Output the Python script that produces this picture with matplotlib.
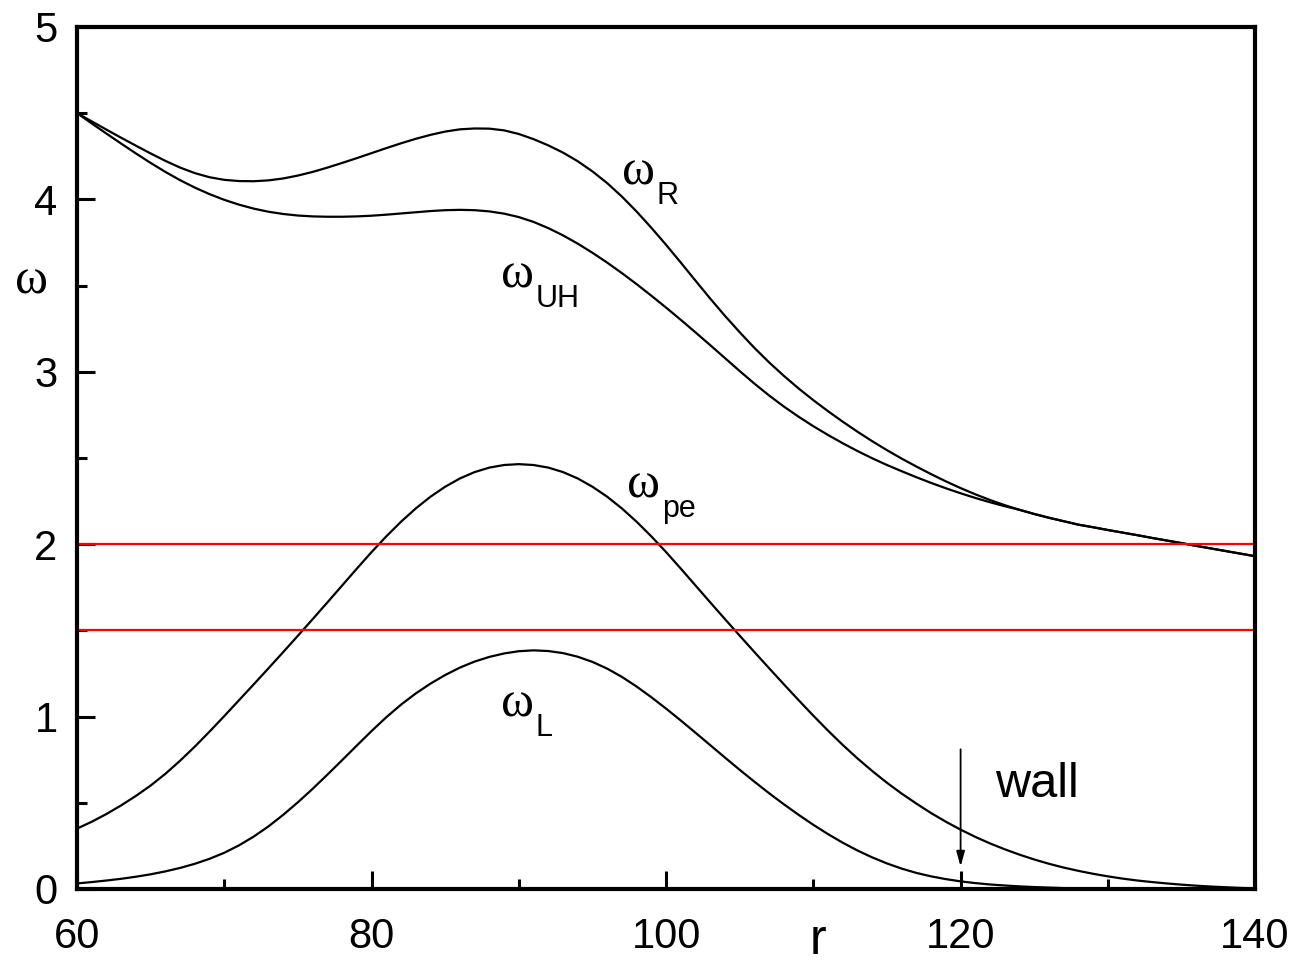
import numpy as np
import matplotlib
matplotlib.use("Agg")
import matplotlib.pyplot as plt

plt.rcParams['font.family'] = ['Liberation Sans', 'DejaVu Sans']

# radius grid, values at every unit of r
r = np.arange(60, 141, 1)

omega_R = [4.500, 4.452, 4.404, 4.357, 4.311, 4.266, 4.223, 4.184, 4.152, 4.128,
           4.113, 4.106, 4.105, 4.110, 4.121, 4.138, 4.159, 4.184, 4.211, 4.239,
           4.268, 4.297, 4.325, 4.351, 4.374, 4.393, 4.406, 4.411, 4.410, 4.400,
           4.379, 4.349, 4.313, 4.271, 4.221, 4.162, 4.094, 4.016, 3.929, 3.835,
           3.736, 3.633, 3.528, 3.424, 3.324, 3.229, 3.138, 3.054, 2.976, 2.903,
           2.835, 2.771, 2.710, 2.652, 2.597, 2.545, 2.496, 2.450, 2.406, 2.364,
           2.325, 2.289, 2.256, 2.226, 2.199, 2.175, 2.153, 2.133, 2.113, 2.098,
           2.082, 2.067, 2.052, 2.036, 2.021, 2.006, 1.990, 1.975, 1.960, 1.945,
           1.930]

omega_UH = [4.500, 4.440, 4.381, 4.323, 4.266, 4.211, 4.159, 4.111, 4.068, 4.030,
            3.997, 3.969, 3.946, 3.928, 3.915, 3.906, 3.901, 3.899, 3.899, 3.901,
            3.905, 3.911, 3.918, 3.925, 3.932, 3.937, 3.939, 3.937, 3.930, 3.917,
            3.897, 3.869, 3.833, 3.791, 3.743, 3.690, 3.633, 3.572, 3.508, 3.441,
            3.372, 3.301, 3.228, 3.154, 3.079, 3.004, 2.931, 2.862, 2.798, 2.739,
            2.684, 2.633, 2.585, 2.540, 2.498, 2.459, 2.423, 2.388, 2.355, 2.324,
            2.295, 2.268, 2.243, 2.220, 2.199, 2.175, 2.153, 2.133, 2.113, 2.098,
            2.082, 2.067, 2.052, 2.036, 2.021, 2.006, 1.990, 1.975, 1.960, 1.945,
            1.930]

omega_pe = [0.350, 0.390, 0.435, 0.485, 0.540, 0.600, 0.668, 0.744, 0.826, 0.913,
            1.003, 1.095, 1.187, 1.280, 1.374, 1.469, 1.565, 1.662, 1.760, 1.858,
            1.954, 2.045, 2.130, 2.207, 2.275, 2.333, 2.381, 2.418, 2.444, 2.459,
            2.464, 2.459, 2.444, 2.418, 2.381, 2.333, 2.275, 2.207, 2.130, 2.045,
            1.954, 1.858, 1.760, 1.662, 1.565, 1.469, 1.374, 1.280, 1.187, 1.095,
            1.005, 0.918, 0.835, 0.757, 0.684, 0.616, 0.553, 0.495, 0.440, 0.390,
            0.344, 0.302, 0.264, 0.230, 0.199, 0.171, 0.146, 0.124, 0.105, 0.088,
            0.073, 0.060, 0.049, 0.040, 0.032, 0.025, 0.019, 0.014, 0.010, 0.006,
            0.003]

omega_L = [0.032, 0.040, 0.049, 0.059, 0.071, 0.085, 0.102, 0.122, 0.146, 0.175,
           0.210, 0.253, 0.304, 0.363, 0.430, 0.503, 0.581, 0.663, 0.747, 0.832,
           0.916, 0.996, 1.069, 1.134, 1.191, 1.241, 1.284, 1.319, 1.346, 1.366,
           1.379, 1.384, 1.380, 1.368, 1.347, 1.317, 1.278, 1.230, 1.174, 1.112,
           1.046, 0.977, 0.906, 0.834, 0.762, 0.691, 0.622, 0.555, 0.491, 0.430,
           0.372, 0.318, 0.268, 0.223, 0.183, 0.148, 0.118, 0.093, 0.073, 0.057,
           0.044, 0.034, 0.026, 0.020, 0.015, 0.011, 0.008, 0.005, 0.003, 0.002,
           0.001, 0.001, 0.000, 0.000, 0.000, 0.000, 0.000, 0.000, 0.000, 0.000,
           0.000]

wave_freqs = [2.0, 1.5]  # red horizontal lines
wall_r = 120

# (subscript, r, omega) for the curve labels
curve_labels = [('R', 97.0, 4.085), ('UH', 88.76, 3.487),
                ('pe', 97.34, 2.269), ('L', 88.76, 0.999)]

fig = plt.figure(figsize=(12.95, 9.65), dpi=100)
ax = fig.add_axes([0.0595, 0.0788, 0.9097, 0.8933])

for y in (omega_R, omega_UH, omega_pe, omega_L):
    ax.plot(r, y, color='black', lw=1.6, solid_joinstyle='round')

for f in wave_freqs:
    ax.axhline(f, color='#ff0000', lw=1.6)

ax.set_xlim(60, 140)
ax.set_ylim(0, 5)
ax.set_xticks([60, 80, 100, 120, 140])
ax.set_xticks(np.arange(70, 140, 20), minor=True)
ax.set_yticks([0, 1, 2, 3, 4, 5])
ax.set_yticks(np.arange(0.5, 5, 1.0), minor=True)

ax.tick_params(which='both', direction='in', width=2.2, labelsize=30,
               top=False, right=False)
ax.tick_params(which='major', length=13)
ax.tick_params(which='minor', length=7)
ax.tick_params(axis='x', pad=20)
ax.tick_params(axis='y', pad=14)
for s in ax.spines.values():
    s.set_linewidth(3)

ax.set_xlabel('r', fontsize=36, va='bottom')
ax.xaxis.set_label_coords(0.629, -0.087)
ax.set_ylabel('ω', fontsize=36, family='Liberation Serif', rotation=0,
              ha='center', va='center')
ax.yaxis.set_label_coords(-0.039, 0.705)

# curve labels: serif omega with a sans subscript
for sub, x0, y0 in curve_labels:
    ax.text(x0, y0, 'ω', fontsize=36, family='Liberation Serif',
            ha='left', va='baseline')
    ax.annotate(sub, xy=(x0, y0), xytext=(25, -14), textcoords='offset points',
                fontsize=22, ha='left', va='baseline')

# wall marker
ax.annotate('', xy=(wall_r, 0.13), xytext=(wall_r, 0.81),
            arrowprops=dict(arrowstyle='-|>,head_length=0.9,head_width=0.25',
                            color='black', lw=1.3, shrinkA=0, shrinkB=0))
ax.text(122.35, 0.534, 'wall', fontsize=35, ha='left', va='baseline')

fig.savefig('out.png', dpi=100)
